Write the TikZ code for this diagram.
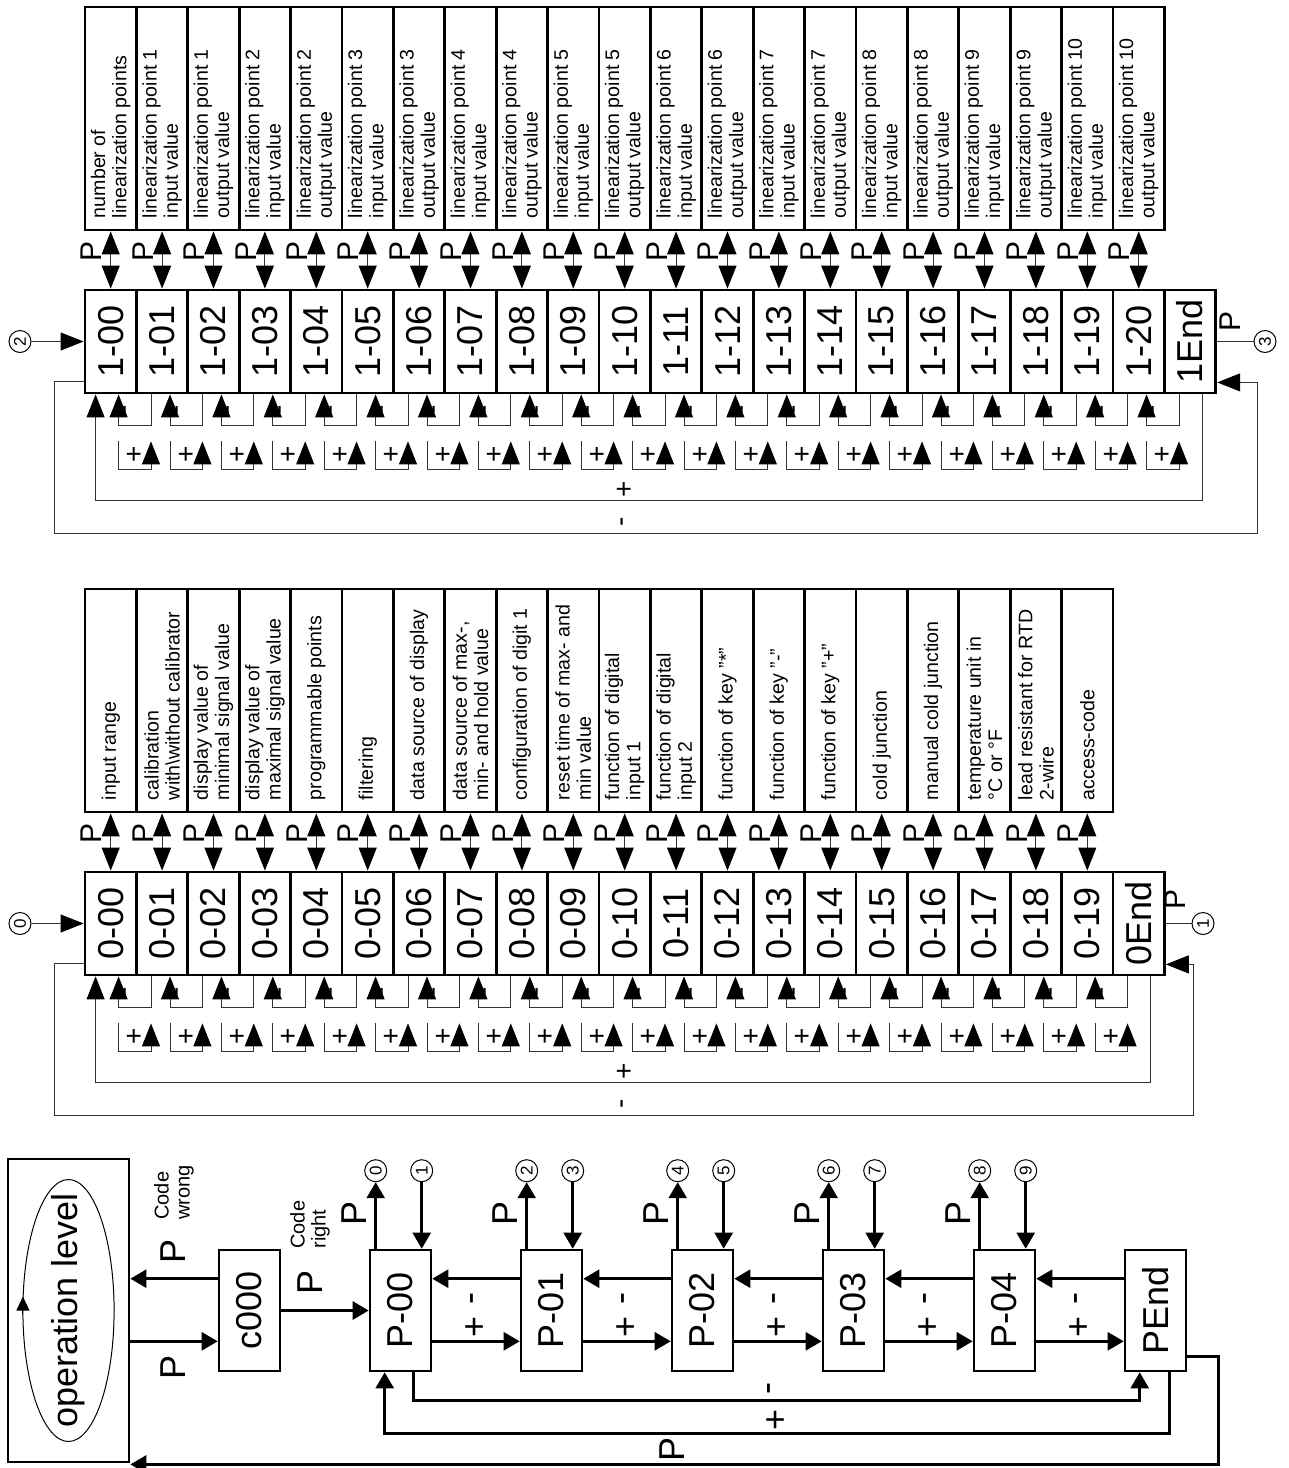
\documentclass[tikz,border=0pt]{standalone}
\usepackage{fontspec}
\setmainfont{Liberation Sans}
\usetikzlibrary{arrows.meta,calc}
\newcommand{\rot}[1]{\rotatebox{90}{#1}}
\newcommand{\desc}[1]{\rotatebox{90}{\parbox{99.5pt}{\raggedright #1}}}
\tikzset{
  descbox/.style={draw, line width=1.4pt, minimum width=25.7pt, minimum height=111.5pt, inner sep=0pt, font=\fontsize{9.8pt}{10.6pt}\selectfont},
  codebox/.style={draw, line width=1.4pt, minimum width=25.7pt, minimum height=51.5pt, inner sep=0pt, font=\fontsize{18pt}{20pt}\selectfont},
  pbox/.style={draw, line width=1.3pt, minimum width=30.5pt, minimum height=60.5pt, inner sep=0pt, font=\fontsize{18pt}{20pt}\selectfont},
  opbox/.style={draw, line width=1.4pt, minimum width=60.5pt, minimum height=151.5pt, inner sep=0pt, font=\fontsize{18pt}{20pt}\selectfont},
  numcirc/.style={draw, circle, line width=0.5pt, minimum size=11pt, inner sep=0pt, font=\fontsize{8.5pt}{9pt}\selectfont},
  thinline/.style={line width=0.5pt, draw=black!80},
  pline/.style={line width=1.3pt},
  bighead/.style={-{Triangle[length=11.5pt,width=9pt,color=black]}},
  shead/.style={-{Triangle[length=8pt,width=9pt]}},
  parrow/.style={thinline, {Triangle[length=11.5pt,width=9pt,color=black]}-{Triangle[length=11.5pt,width=9pt,color=black]}},
  plabel/.style={rotate=90, inner sep=0pt, font=\fontsize{15pt}{16pt}\selectfont},
  biglabel/.style={rotate=90, inner sep=0pt, font=\fontsize{18pt}{20pt}\selectfont},
  smalllabel/.style={rotate=90, inner sep=0pt, font=\fontsize{14pt}{15pt}\selectfont},
  looplabel/.style={rotate=90, inner sep=0pt, font=\fontsize{14pt}{15pt}\selectfont},
  notelabel/.style={rotate=90, anchor=west, align=left, inner sep=0pt, font=\fontsize{10pt}{10.5pt}\selectfont},
}

\begin{document}
\begin{tikzpicture}[x=0.5pt, y=-0.5pt]
  \useasboundingbox (0,0) rectangle (1289,1468);

  % level 1: linearization
  \foreach \i in {0,...,20}{
    \node[codebox] (c1-\i) at ({85+(\i+0.5)*51.4},341.5) {\rot{1-\ifnum\i<10 0\fi\i}};
  }
  \node[codebox] (c1-21) at ({85+21.5*51.4},341.5) {\rot{1End}};
  \node[descbox] (t1-0) at ({85+0.5*51.4},118.5) {\desc{number of\\linearization points}};
  \foreach \k in {1,...,10}{
    \pgfmathtruncatemacro\ka{2*\k-1}
    \pgfmathtruncatemacro\kb{2*\k}
    \node[descbox] (t1-\ka) at ({85+(\ka+0.5)*51.4},118.5) {\desc{linearization point \k\\input value}};
    \node[descbox] (t1-\kb) at ({85+(\kb+0.5)*51.4},118.5) {\desc{linearization point \k\\output value}};
  }

  % level 0: configuration
  \foreach \i in {0,...,19}{
    \node[codebox] (c0-\i) at ({85+(\i+0.5)*51.4},923.5) {\rot{0-\ifnum\i<10 0\fi\i}};
  }
  \node[codebox] (c0-20) at ({85+20.5*51.4},923.5) {\rot{0End}};
  \foreach \i/\txt in {
    0/{input range},1/{calibration\\with\textbackslash without calibrator},
    2/{display value of\\minimal signal value},3/{display value of\\maximal signal value},
    4/{programmable points},5/{filtering},6/{data source of display},
    7/{data source of max-,\\min- and hold value},8/{configuration of digit 1},
    9/{reset time of max- and\\min value},10/{function of digital\\input 1},
    11/{function of digital\\input 2},12/{function of key "*"},13/{function of key "-"},
    14/{function of key "+"},15/{cold junction},16/{manual cold junction},
    17/{temperature unit in\\°C or °F},18/{lead resistant for RTD\\2-wire},19/{access-code}
  }{
    \node[descbox] (t0-\i) at ({85+(\i+0.5)*51.4},700.5) {\desc{\txt}};
  }

  % keys inside both levels
  \foreach \lv/\n/\yb/\rx in {1/21/393/40, 0/20/975/28}{
    \pgfmathtruncatemacro\m{\n-1}
    \foreach \i in {0,...,\m}{
      \pgfmathtruncatemacro\j{\i+1}
      \draw[parrow] (c\lv-\i.north) -- (t\lv-\i.south);
      \node[plabel] at ($(c\lv-\i.north west)+(8,-37)$) {P};
      \draw[thinline, bighead] ($(c\lv-\j.south west)+(16,0)$) -- ++(0,31) -| ($(c\lv-\i.south west)+(35,0)$);
      \node[smalllabel] at ($(c\lv-\i.south west)+(45,15)$) {-};
      \draw[thinline, bighead] ($(c\lv-\i.south west)+(35,47)$) -- ++(0,28) -| ($(c\lv-\j.south west)+(16,47)$);
      \node[smalllabel] at ($(c\lv-\i.south west)+(52,60)$) {+};
    }
    \draw[thinline, bighead] ($(c\lv-\n.south west)+(39,0)$) -- ++(0,106) -| ($(c\lv-0.south west)+(12,0)$);
    \draw[thinline, bighead] ($(c\lv-0.south west)+(0,-13)$) -| ++(-29,152) -| ($(c\lv-\n.south east)+(\rx,-12)$) -- ($(c\lv-\n.south east)+(0,-12)$);
    \node[looplabel] at (625,{\yb+96}) {+};
    \node[looplabel] at (625,{\yb+129}) {-};
  }

  % jumps in and out
  \node[numcirc] (n2) at (20,341.5) {\rot{2}};
  \node[numcirc] (n3) at (1265,341.5) {\rot{3}};
  \draw[thinline, bighead] (n2) -- (c1-0);
  \draw[thinline] (c1-21) -- (n3);
  \node[plabel] at (1230,321) {P};
  \node[numcirc] (n0) at (20,923.5) {\rot{0}};
  \node[numcirc] (n1) at (1203,923.5) {\rot{1}};
  \draw[thinline, bighead] (n0) -- (c0-0);
  \draw[thinline] (c0-20) -- (n1);
  \node[plabel] at (1175,899) {P};

  % programming level
  \node[opbox] (op) at (68.5,1310.5) {\rot{operation level}};
  \draw[line width=0.5pt] (op.center) ellipse [x radius=22.8pt, y radius=65.5pt];
  \draw[line width=0.5pt, -{Triangle[length=7pt,width=6.5pt]}] ($(op.center)+(-45.6,3)$) -- ($(op.center)+(-45.6,-14)$);
  \node[pbox] (code) at (249.5,1310.5) {\rot{c000}};
  \draw[pline, shead] ($(code.north west)+(0,30)$) -- ($(op.north east |- code.north west)+(0,30)$);
  \draw[pline, shead] ($(op.south east |- code.south west)+(0,-31)$) -- ($(code.south west)+(0,-31)$);
  \node[biglabel] at (173,1251) {P};
  \node[biglabel] at (173,1367) {P};
  \node[notelabel] at (174,1220) {Code\\wrong};
  \node[notelabel] at (310,1249) {Code\\right};
  \node[biglabel] at (310,1282) {P};

  \foreach \k/\txt in {0/P-00,1/P-01,2/P-02,3/P-03,4/P-04,5/PEnd}{
    \node[pbox] (p\k) at ({400.5+151*\k},1310.5) {\rot{\txt}};
  }
  \draw[pline, shead] (code) -- (p0);
  \foreach \k in {0,...,4}{
    \pgfmathtruncatemacro\j{\k+1}
    \pgfmathtruncatemacro\ca{2*\k}
    \pgfmathtruncatemacro\cb{2*\k+1}
    \draw[pline, shead] ($(p\j.north west)+(0,30)$) -- ($(p\k.north east)+(0,30)$);
    \draw[pline, shead] ($(p\k.south east)+(0,-31)$) -- ($(p\j.south west)+(0,-31)$);
    \node[biglabel] at ({476+151*\k},1298) {-};
    \node[biglabel] at ({476+151*\k},1327) {+};
    \node[numcirc] (m\ca) at ($(p\k.north west)+(7,-78)$) {\rot{\ca}};
    \node[numcirc] (m\cb) at ($(p\k.north west)+(53,-78)$) {\rot{\cb}};
    \draw[pline, shead] ($(p\k.north west)+(7,0)$) -- (m\ca);
    \draw[pline, shead] (m\cb) -- ($(p\k.north west)+(53,0)$);
    \node[biglabel] at ($(p\k.north west)+(-15,-35)$) {P};
  }
  \draw[pline, shead] ($(p0.south west)+(45,0)$) -- ++(0,28) -| ($(p5.south west)+(16,0)$);
  \draw[pline, shead] ($(p5.south west)+(46,0)$) -- ++(0,61) -| ($(p0.south west)+(16,0)$);
  \draw[pline, shead] ($(p5.south east)+(0,-16)$) -- ++(31,0) |- ($(op.south east)+(0,1)$);
  \node[biglabel] at (773,1388) {-};
  \node[biglabel] at (777,1420) {+};
  \node[biglabel] at (672,1449) {P};
\end{tikzpicture}
\end{document}
